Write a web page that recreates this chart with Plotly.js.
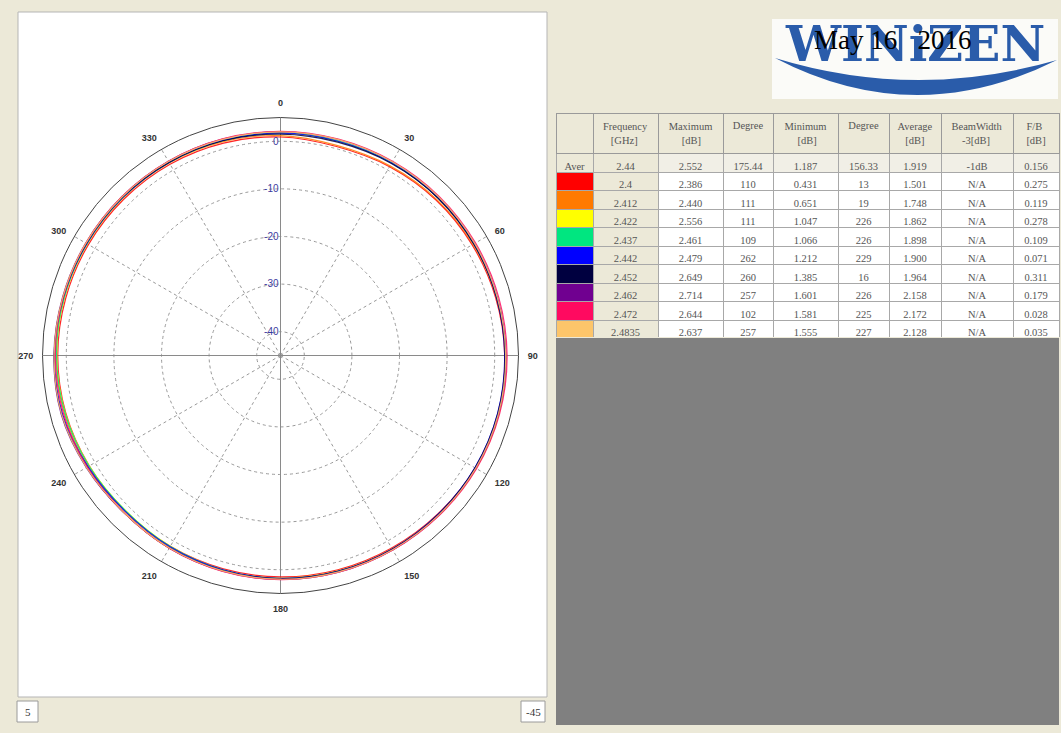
<!DOCTYPE html>
<html>
<head>
<meta charset="utf-8">
<script src="https://cdn.plot.ly/plotly-3.0.1.min.js"></script>
<style>html,body{margin:0;padding:0;background:#ece9d8;}#chart{width:1061px;height:733px;}</style>
</head>
<body>
<div id="chart"></div>
<script>
// ---- data ----
const angles = [0,15,30,45,60,75,90,105,120,135,150,165,180,195,210,225,240,255,270,285,300,315,330,345,360];
const freqLabels = ["2.4","2.412","2.422","2.437","2.442","2.452","2.462","2.472","2.4835"];
const seriesColors = ["#ff0000","#ff7a00","#ffff00","#00e680","#0000ff","#000040","#700090","#ff0a60","#fdc56a"];
const r_2400  = [0.9,0.45,0.8,1.2,1.5,1.8,2.1,2.35,2.25,1.9,1.7,1.6,1.5,1.4,1.3,1.2,1.4,1.7,1.8,1.7,1.6,1.5,1.4,1.2,0.9];
const r_2412  = [1.2,0.7,1.0,1.4,1.7,2.0,2.3,2.42,2.35,2.1,1.9,1.8,1.75,1.7,1.6,1.5,1.7,2.0,2.1,2.0,1.9,1.8,1.7,1.5,1.2];
const r_2422  = [1.7,1.6,1.7,1.8,1.9,2.1,2.35,2.52,2.45,2.2,2.0,1.9,1.8,1.6,1.3,1.06,1.4,1.8,2.0,2.0,1.9,1.85,1.8,1.75,1.7];
const r_2437  = [1.8,1.7,1.75,1.85,1.95,2.1,2.3,2.45,2.4,2.2,2.05,1.95,1.85,1.65,1.35,1.08,1.45,1.85,2.05,2.05,1.95,1.9,1.85,1.8,1.8];
const r_2442  = [1.7,1.6,1.7,1.8,1.9,2.0,2.1,2.2,2.15,2.0,1.95,1.9,1.8,1.6,1.4,1.22,1.7,2.4,2.45,2.2,2.0,1.9,1.85,1.8,1.7];
const r_2452  = [1.5,1.4,1.6,1.8,1.9,2.0,2.15,2.25,2.2,2.05,2.0,1.95,1.9,1.8,1.7,1.6,2.0,2.6,2.55,2.3,2.1,2.0,1.85,1.7,1.5];
const r_2462  = [2.0,1.95,2.0,2.05,2.1,2.2,2.35,2.45,2.4,2.25,2.15,2.1,2.05,1.9,1.75,1.61,2.1,2.7,2.6,2.4,2.25,2.15,2.1,2.05,2.0];
const r_2472  = [2.1,2.05,2.1,2.2,2.3,2.45,2.6,2.64,2.55,2.35,2.2,2.15,2.1,1.95,1.75,1.59,1.9,2.2,2.3,2.25,2.2,2.15,2.1,2.1,2.1];
const r_24835 = [2.0,1.95,2.0,2.05,2.1,2.15,2.3,2.4,2.35,2.2,2.1,2.05,2.0,1.85,1.7,1.56,2.05,2.62,2.55,2.35,2.2,2.1,2.05,2.0,2.0];
const seriesR = [r_2400,r_2412,r_2422,r_2437,r_2442,r_2452,r_2462,r_2472,r_24835];

const angTickVals = [0,30,60,90,120,150,180,210,240,270,300,330];
const angTickText = ["0","30","60","90","120","150","180","210","240","270","300","330"];
const radTickVals = [-40,-30,-20,-10,0];
const radTickText = ["-40","-30","-20","-10","0"];
const radRange = [-45,5];

// table
const NB = '\u00a0';
const tblHeader = ["","Frequency<br>"+NB.repeat(3)+"[GHz]","Maximum<br>"+NB.repeat(5)+"[dB]","Degree","Minimum<br>"+NB.repeat(5)+"[dB]","Degree","Average<br>"+NB.repeat(3)+"[dB]","BeamWidth<br>"+NB.repeat(4)+"-3[dB]","F/B<br>[dB]"];
const aver = ["Aver","2.44","2.552","175.44","1.187","156.33","1.919","-1dB","0.156"];
const colMax    = ["2.386","2.440","2.556","2.461","2.479","2.649","2.714","2.644","2.637"];
const colMaxDeg = ["110","111","111","109","262","260","257","102","257"];
const colMin    = ["0.431","0.651","1.047","1.066","1.212","1.385","1.601","1.581","1.555"];
const colMinDeg = ["13","19","226","226","229","16","226","225","227"];
const colAvg    = ["1.501","1.748","1.862","1.898","1.900","1.964","2.158","2.172","2.128"];
const colBW     = ["N/A","N/A","N/A","N/A","N/A","N/A","N/A","N/A","N/A"];
const colFB     = ["0.275","0.119","0.278","0.109","0.071","0.311","0.179","0.028","0.035"];

// ---- helpers ----
const W = 1061, H = 733;
const px = x => x / W;
const py = y => 1 - y / H;

const traces = [];
// cross lines
traces.push({type:'scatterpolar', r:[radRange[1],radRange[0],radRange[1]], theta:[0,0,180], mode:'lines',
  line:{color:'#8a8a8a', width:1}, hoverinfo:'skip', showlegend:false});
traces.push({type:'scatterpolar', r:[radRange[1],radRange[0],radRange[1]], theta:[90,90,270], mode:'lines',
  line:{color:'#8a8a8a', width:1}, hoverinfo:'skip', showlegend:false});
seriesR.forEach((r,i) => {
  traces.push({type:'scatterpolar', r:r, theta:angles, mode:'lines', name:freqLabels[i],
    line:{color:seriesColors[i], width:1.2, shape:'spline'}, opacity:0.85, showlegend:false});
});

// table
const nRows = freqLabels.length;
const swatchFill = ['#ece9d8'].concat(seriesColors);
const beige = '#ece9d8';
const averFill = '#f1efe6';
const whiteCol = [averFill].concat(Array(nRows).fill('#ffffff'));
const freqFill = [beige].concat(Array(nRows).fill(beige));
const cols = [
  [aver[0]].concat(Array(nRows).fill('')),
  [aver[1]].concat(freqLabels),
  [aver[2]].concat(colMax),
  [aver[3]].concat(colMaxDeg),
  [aver[4]].concat(colMin),
  [aver[5]].concat(colMinDeg),
  [aver[6]].concat(colAvg),
  [aver[7]].concat(colBW),
  [aver[8]].concat(colFB)
];
traces.push({
  type:'table',
  domain:{x:[px(556), px(1059)], y:[py(338), py(113)]},
  columnwidth:[37,65,65,50,65,51,52,72,46],
  header:{values:tblHeader, height:38, align:'center',
    fill:{color:beige}, line:{color:'#9a9a9a', width:1},
    font:{family:'Liberation Serif', size:10.5, color:'#555'}},
  cells:{values:cols, height:18.5, align:'center',
    fill:{color:[swatchFill, freqFill, whiteCol, whiteCol, whiteCol, whiteCol, whiteCol, whiteCol, whiteCol]},
    line:{color:'#a8a8a8', width:1},
    font:{family:'Liberation Serif', size:10.5, color:'#555'}}
});

// swoosh path
const sw = `M ${px(775)} ${py(58)} Q ${px(915)} ${py(131)} ${px(1057)} ${py(60)} Q ${px(915)} ${py(101)} ${px(775)} ${py(58)} Z`;

const layout = {
  width:W, height:H, margin:{l:0,r:0,t:0,b:0},
  paper_bgcolor:'#ece9d8', showlegend:false,
  polar:{
    domain:{x:[px(42.5), px(518.5)], y:[py(593.5), py(117.5)]},
    bgcolor:'#ffffff',
    angularaxis:{rotation:90, direction:'clockwise', tickmode:'array', tickvals:angTickVals, ticktext:angTickText,
      showline:true, linecolor:'#444', linewidth:1, showgrid:true, gridcolor:'#999', griddash:'dot', gridwidth:1,
      ticks:'outside', ticklen:7, tickcolor:'rgba(0,0,0,0)',
      tickfont:{family:'Liberation Sans', size:9, color:'#333', weight:'bold'}},
    radialaxis:{range:radRange, angle:90, tickangle:90, side:'counterclockwise', tickmode:'array', tickvals:radTickVals, ticktext:radTickText,
      showline:false, showgrid:true, gridcolor:'#999', griddash:'dot', gridwidth:1, ticks:'',
      tickfont:{family:'Liberation Sans', size:10, color:'#3b3ba0'}}
  },
  shapes:[
    {type:'rect', xref:'paper', yref:'paper', x0:px(18), x1:px(547), y0:py(697), y1:py(12), fillcolor:'#ffffff', line:{color:'#b5b5b5', width:1}, layer:'below'},
    {type:'rect', xref:'paper', yref:'paper', x0:px(556), x1:px(1059), y0:py(725), y1:py(338), fillcolor:'#808080', line:{width:0}, layer:'below'},
    {type:'rect', xref:'paper', yref:'paper', x0:px(772), x1:px(1058), y0:py(99), y1:py(19), fillcolor:'#fbfbf8', line:{width:0}, layer:'below'},
    {type:'path', xref:'paper', yref:'paper', path:sw, fillcolor:'#2a5caa', line:{width:0}},
    {type:'rect', xref:'paper', yref:'paper', x0:px(17), x1:px(38), y0:py(722), y1:py(701), fillcolor:'#ffffff', line:{color:'#9a9a9a', width:1}},
    {type:'rect', xref:'paper', yref:'paper', x0:px(521), x1:px(545), y0:py(722), y1:py(701), fillcolor:'#ffffff', line:{color:'#9a9a9a', width:1}}
  ],
  annotations:[
    {xref:'paper', yref:'paper', x:px(915), y:py(44), text:'<b>WINiZEN</b>', showarrow:false, xanchor:'center', yanchor:'middle',
      font:{family:'DejaVu Serif', size:49, color:'#2a5caa'}},
    {xref:'paper', yref:'paper', x:px(893), y:py(40), text:'May 16\u00a0\u00a0 2016', showarrow:false, xanchor:'center', yanchor:'middle',
      font:{family:'Liberation Serif', size:27, color:'#000000'}},
    {xref:'paper', yref:'paper', x:px(27.5), y:py(711.5), text:'5', showarrow:false, xanchor:'center', yanchor:'middle',
      font:{family:'Liberation Serif', size:11, color:'#333'}},
    {xref:'paper', yref:'paper', x:px(533), y:py(711.5), text:'-45', showarrow:false, xanchor:'center', yanchor:'middle',
      font:{family:'Liberation Serif', size:11, color:'#333'}}
  ]
};

Plotly.newPlot('chart', traces, layout, {displayModeBar:false, staticPlot:true});
</script>
</body>
</html>
